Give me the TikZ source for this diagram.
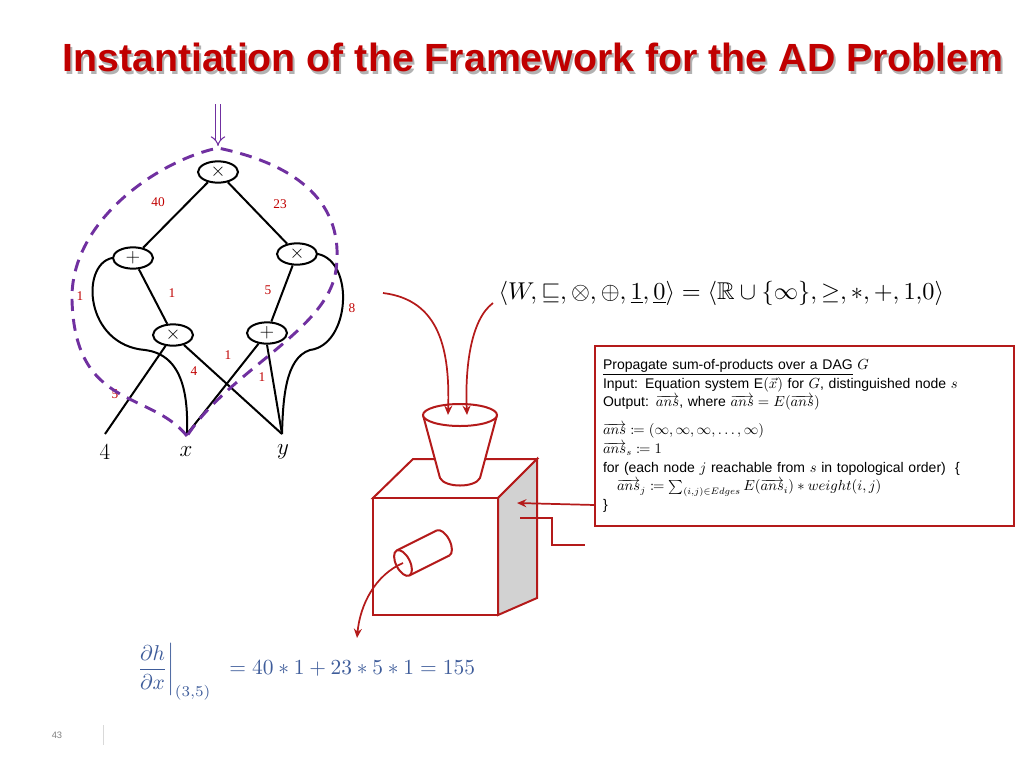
\documentclass[tikz,border=0pt]{standalone}
\usepackage{amsmath,amssymb,mathtools}
\usepackage{fontspec}
\setmainfont{Liberation Sans}
\newfontfamily\serfont{Liberation Serif}
\usetikzlibrary{shapes.geometric,arrows.meta}
\definecolor{dred}{HTML}{C00000}
\definecolor{bred}{HTML}{B41A1A}
\definecolor{vio}{HTML}{7030A0}
\definecolor{fblue}{HTML}{3E5C9A}
\newcommand{\ansv}{\overrightarrow{\mathnormal{ans}}}
\begin{document}
\begin{tikzpicture}[x=0.75pt,y=-0.75pt,
  op/.style={draw,ellipse,line width=1.5pt,minimum width=30pt,minimum height=16pt,inner sep=0pt,font=\Large},
  wl/.style={text=dred,font=\serfont\normalsize},
  ed/.style={line width=1.5pt},
  rd/.style={draw=bred,line width=1.5pt},
  rarr/.style={bred,line width=1.3pt,-{Stealth[length=7pt,width=6pt]}}]
\useasboundingbox (0,0) rectangle (1024,768);
% title
\node[text=gray!60,font=\bfseries] at (535,60) {\resizebox{706pt}{!}{Instantiation of the Framework for the AD Problem}};
\node[text=dred,font=\bfseries] (title) at (533,57) {\resizebox{706pt}{!}{Instantiation of the Framework for the AD Problem}};
% graph
\node[op] (t) at (218,172) {$\times$};
\node[op] (pl) at (133,258) {$+$};
\node[op] (mr) at (297,254) {$\times$};
\node[op] (ml) at (173,335) {$\times$};
\node[op] (pr) at (267,333) {$+$};
\coordinate (c4) at (105,434);
\coordinate (cx) at (187,434);
\coordinate (cy) at (282,434);
\node[font=\LARGE] (l4) at (105,452) {$4$};
\node[font=\LARGE] (lx) at (186,452) {$x$};
\node[font=\LARGE] (ly) at (283,452) {$y$};
\draw[ed] (t) -- (pl); \draw[ed] (t) -- (mr);
\draw[ed] (pl) -- (ml); \draw[ed] (mr) -- (pr);
\draw[ed] (ml) -- (c4); \draw[ed] (ml) -- (cy);
\draw[ed] (pr) -- (cx); \draw[ed] (pr.south) -- (cy);
\draw[ed] (pl.west) .. controls (80,265) and (85,345) .. (145,350) .. controls (185,355) and (188,400) .. (cx);
\draw[ed] (mr.east) .. controls (355,262) and (350,345) .. (310,350) .. controls (285,358) and (283,400) .. (cy);
\node[wl] (w40) at (158,202) {40};
\node[wl] (w23) at (280,204) {23};
\node[wl] (w1a) at (80,296) {1};
\node[wl] (w1b) at (172,293) {1};
\node[wl] (w5a) at (268,290) {5};
\node[wl] (w8) at (352,308) {8};
\node[wl] (w1c) at (228,355) {1};
\node[wl] (w4) at (194,371) {4};
\node[wl] (w1d) at (262,377) {1};
\node[wl] (w5b) at (115,394) {5};
% purple
\draw[vio,line width=2.2pt,dash pattern=on 9pt off 6pt]
 (187,436) .. controls (150,390) and (75,410) .. (72,300) .. controls (70,220) and (160,160) .. (218,148)
 .. controls (300,165) and (345,205) .. (336,270) .. controls (328,330) and (230,370) .. (187,436);
\coordinate (pa) at (218,104);
\coordinate (pb) at (218,146);
\draw[vio,line width=0.8pt,double,double distance=3pt,-{Implies}] (pa) -- (pb);
% semiring
\node[anchor=west] (semi) at (494,293) {\resizebox{334pt}{!}{$\left\langle W,\sqsubseteq,\otimes,\oplus,\underline{1},\underline{0}\right\rangle=\langle \mathbb{R}\cup\{\infty\},\geq,\ast,+,1{,}0\rangle$}};
% machine
\draw[rd,fill=white] (373,498) -- (413,459) -- (537,459) -- (498,498) -- cycle;
\draw[rd,fill=gray!35] (498,498) -- (537,459) -- (537,598) -- (498,615) -- cycle;
\draw[rd,fill=white] (373,498) rectangle (498,615);
\draw[rd,fill=white] (423,415) -- (440,478) .. controls (445,488) and (475,488) .. (480,478) -- (497,415);
\draw[rd,fill=white] (460,415) ellipse (37 and 11);
\coordinate (cyl1) at (403,563);
\coordinate (cyl2) at (443,543);
\draw[rd,fill=white] (cyl2) ellipse[x radius=7,y radius=14,rotate=27];
\fill[white] (396.7,550.5) -- (436.7,530.5) -- (449.3,555.5) -- (409.3,575.5) -- cycle;
\draw[rd] (396.7,550.5) -- (436.7,530.5);
\draw[rd] (409.3,575.5) -- (449.3,555.5);
\draw[rd,fill=white] (cyl1) ellipse[x radius=7,y radius=14,rotate=27];
\coordinate (o1) at (383,293);
\coordinate (o2) at (493,303);
\coordinate (i1) at (448,415);
\coordinate (i2) at (467,415);
\draw[rarr] (o1) .. controls (440,300) and (450,350) .. (i1);
\draw[rarr] (o2) .. controls (470,320) and (465,370) .. (i2);
\coordinate (out) at (357,638);
\draw[rarr] (cyl1) .. controls (375,575) and (360,605) .. (out);
% text box
\node[draw=bred,line width=1.5pt,anchor=north west,minimum width=314pt,minimum height=135pt,text width=302pt,inner sep=5pt,font=\fontsize{10.5}{14}\selectfont,align=left] (box) at (594,345) {%
\underline{Propagate sum-of-products over a DAG} $G$\\
Input: Equation system $\mathrm{E}(\vec{x})$ for $G$, distinguished node $s$\\
Output: $\ansv$, where $\ansv=E(\ansv)$\\[7pt]
$\ansv\coloneqq(\infty,\infty,\infty,\dots,\infty)$\\
$\ansv_s\coloneqq 1$\\
for (each node $j$ reachable from $s$ in topological order) \ \{\\
\quad$\ansv_j\coloneqq\sum_{(i,j)\in \mathnormal{Edges}}E(\ansv_i)\ast \mathnormal{weight}(i,j)$\\
\}};
\coordinate (bx) at (595,505);
\coordinate (bt) at (517,503);
\draw[rarr] (bx) -- (bt);
\coordinate (s1) at (520,518);
\coordinate (s2) at (585,545);
\draw[rd] (s1) -- (552,518) -- (552,545) -- (s2);
% result
\node[text=fblue] (res) at (305,672) {\resizebox{255pt}{!}{$\left.\dfrac{\partial h}{\partial x}\right|_{(3,5)}\ \ =40\ast1+23\ast5\ast1=155$}};
\node[font=\scriptsize,text=gray] (pg) at (57,735) {43};
\draw[gray!30] (103,725) -- (103,745);
\end{tikzpicture}
\end{document}
